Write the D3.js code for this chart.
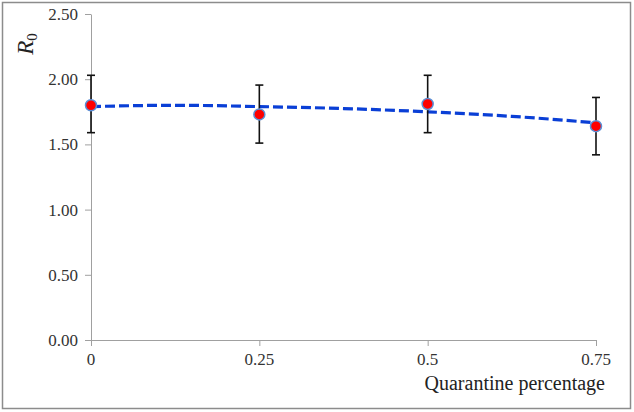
<!DOCTYPE html>
<html><head><meta charset="utf-8">
<script src="https://cdn.jsdelivr.net/npm/d3@7"></script>
</head><body style="margin:0">
<svg id="c" width="634" height="412"></svg>
<script>
const xValues = [0, 0.25, 0.5, 0.75];
const xTickLabels = ["0", "0.25", "0.5", "0.75"];
const r0Values = [1.80, 1.73, 1.81, 1.64];
const errUpper = [2.03, 1.955, 2.03, 1.86];
const errLower = [1.59, 1.51, 1.59, 1.42];
const trendX = [0, 0.125, 0.25, 0.375, 0.5, 0.625, 0.75];
const trendY = [1.79, 1.80, 1.79, 1.775, 1.75, 1.715, 1.665];
const yTicks = [0, 0.5, 1, 1.5, 2, 2.5];

const svg = d3.select("#c");
svg.append("rect").attr("x",2.5).attr("y",2.5).attr("width",628).attr("height",406)
  .attr("fill","#fff").attr("stroke","#8c8c8c").attr("stroke-width",1.5);

const x = d3.scaleLinear().domain([0,0.75]).range([91,596]);
const y = d3.scaleLinear().domain([0,2.5]).range([340,14]);
const fmt = d3.format(".2f");

function serif(sel, size) {
  return sel.style("font-family", '"Liberation Serif"').style("font-size", size + "px");
}

const yAxis = svg.append("g").attr("transform","translate(91,0)")
  .call(d3.axisLeft(y).tickValues(yTicks).tickFormat("").tickSize(6).tickSizeOuter(0));
const xAxis = svg.append("g").attr("transform","translate(0,340)")
  .call(d3.axisBottom(x).tickValues(xValues).tickFormat("").tickSize(6).tickSizeOuter(0));
[yAxis,xAxis].forEach(g=>{
  g.select(".domain").attr("stroke","#a0a0a0");
  g.selectAll(".tick line").attr("stroke","#a0a0a0");
  g.selectAll(".tick text").remove();
});

// tick labels positioned by the scales
yTicks.forEach(v=>{
  serif(svg.append("text"), 17).attr("x",78).attr("y",y(v)+6).attr("text-anchor","end")
    .attr("fill","#333").text(fmt(v));
});
xValues.forEach((v,i)=>{
  serif(svg.append("text"), 17).attr("x",x(v)).attr("y",365).attr("text-anchor","middle")
    .attr("fill","#333").text(xTickLabels[i]);
});

// trend line
const line = d3.line().x((d,i)=>x(trendX[i])).y(d=>y(d)).curve(d3.curveMonotoneX);
svg.append("path").datum(trendY).attr("d",line).attr("fill","none")
  .attr("stroke","#0a3fd6").attr("stroke-width",3.2).attr("stroke-dasharray","10,4");

// error bars
const eb = svg.append("g").attr("stroke","#111").attr("stroke-width",1.6);
xValues.forEach((v,i)=>{
  eb.append("line").attr("x1",x(v)).attr("x2",x(v)).attr("y1",y(errUpper[i])).attr("y2",y(errLower[i]));
  eb.append("line").attr("x1",x(v)-4).attr("x2",x(v)+4).attr("y1",y(errUpper[i])).attr("y2",y(errUpper[i]));
  eb.append("line").attr("x1",x(v)-4).attr("x2",x(v)+4).attr("y1",y(errLower[i])).attr("y2",y(errLower[i]));
});

// points
svg.append("g").selectAll("circle").data(r0Values).join("circle")
  .attr("cx",(d,i)=>x(xValues[i])).attr("cy",d=>y(d)).attr("r",5.5)
  .attr("fill","#ff0000").attr("stroke","#5b8fd6").attr("stroke-width",1.5);

// labels
const yl = serif(svg.append("text"), 23).attr("transform","rotate(-90 33 44)")
  .attr("x",33).attr("y",44).attr("text-anchor","middle").attr("fill","#222");
yl.append("tspan").text("R").style("font-style","italic");
serif(yl.append("tspan").text("0").attr("dy",4), 15);

serif(svg.append("text"), 20).attr("x",605).attr("y",390).attr("text-anchor","end")
  .attr("fill","#222").text("Quarantine percentage");
</script>
</body></html>
